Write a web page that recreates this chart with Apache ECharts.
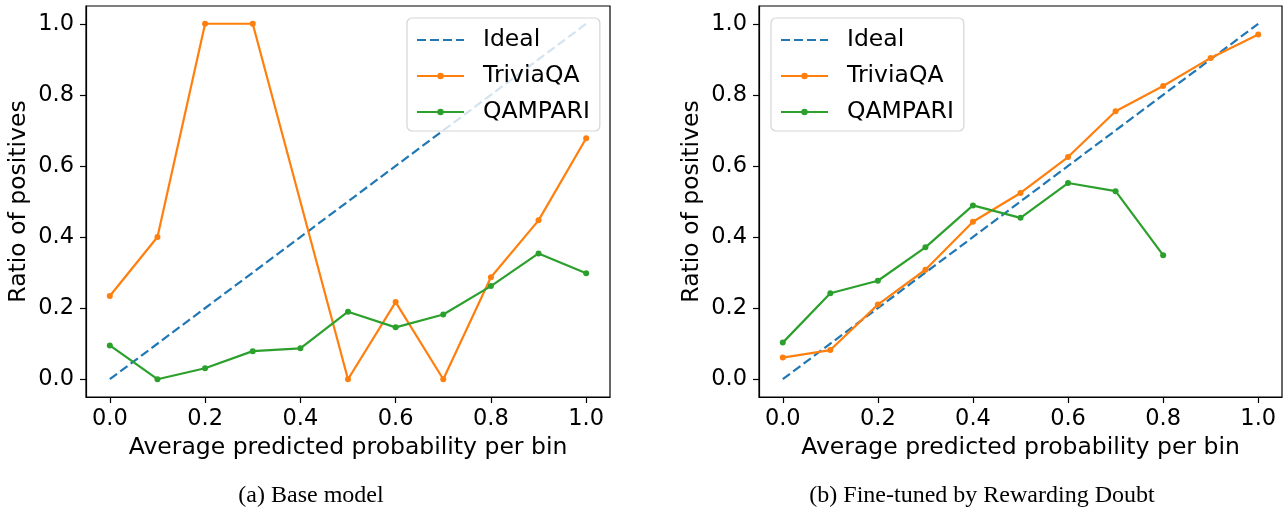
<!DOCTYPE html>
<html>
<head>
<meta charset="utf-8">
<script src="https://cdn.jsdelivr.net/npm/echarts@6/dist/echarts.min.js"></script>
<style>
html,body{margin:0;padding:0;background:#fff;}
#c{width:1283px;height:507px;}
</style>
</head>
<body>
<div id="c"></div>
<script>
// ---- data ----
const tickValues = [0, 0.2, 0.4, 0.6, 0.8, 1.0];
const idealX = [0, 1];
const idealY = [0, 1];

// (a) Base model
const baseTriviaX = [0, 0.1, 0.2, 0.3, 0.5, 0.6, 0.7, 0.8, 0.9, 1.0];
const baseTriviaY = [0.234, 0.400, 1.000, 1.000, 0.000, 0.217, 0.000, 0.287, 0.447, 0.678];
const baseQampariX = [0, 0.1, 0.2, 0.3, 0.4, 0.5, 0.6, 0.7, 0.8, 0.9, 1.0];
const baseQampariY = [0.095, 0.000, 0.031, 0.079, 0.087, 0.190, 0.146, 0.182, 0.262, 0.354, 0.298];

// (b) Fine-tuned by Rewarding Doubt
const ftTriviaX = [0, 0.1, 0.2, 0.3, 0.4, 0.5, 0.6, 0.7, 0.8, 0.9, 1.0];
const ftTriviaY = [0.061, 0.082, 0.210, 0.308, 0.443, 0.524, 0.625, 0.754, 0.825, 0.904, 0.970];
const ftQampariX = [0, 0.1, 0.2, 0.3, 0.4, 0.5, 0.6, 0.7, 0.8];
const ftQampariY = [0.103, 0.242, 0.277, 0.371, 0.489, 0.454, 0.552, 0.529, 0.349];

const seriesNames = ['Ideal', 'TriviaQA', 'QAMPARI'];
const captions = ['(a) Base model', '(b) Fine-tuned by Rewarding Doubt'];
const xTitle = 'Average predicted probability per bin';
const yTitle = 'Ratio of positives';

// ---- helpers ----
const zip = (xs, ys) => xs.map((x, i) => [x, ys[i]]);
const FONT = 'DejaVu Sans';
const BLUE = '#1f77b4', ORANGE = '#ff7f0e', GREEN = '#2ca02c';

function xAxis(idx) {
  return {
    gridIndex: idx, type: 'value', min: -0.05, max: 1.05,
    name: xTitle, nameLocation: 'middle', nameGap: 37,
    nameTextStyle: {fontFamily: FONT, fontSize: 23.5, color: '#000'},
    axisLine: {show: true, onZero: false, lineStyle: {color: '#000', width: 1.2}},
    axisTick: {show: true, length: 6, customValues: tickValues, lineStyle: {color: '#000', width: 1.2}},
    axisLabel: {customValues: tickValues, margin: 11, fontFamily: FONT, fontSize: 22.5, color: '#000',
      formatter: v => v.toFixed(1)},
    splitLine: {show: false}
  };
}
function yAxis(idx) {
  return {
    gridIndex: idx, type: 'value', min: -0.05, max: 1.05,
    name: yTitle, nameLocation: 'middle', nameGap: 55, nameRotate: 90,
    nameTextStyle: {fontFamily: FONT, fontSize: 23.5, color: '#000'},
    axisLine: {show: true, onZero: false, lineStyle: {color: '#000', width: 1.2}},
    axisTick: {show: true, length: 6, customValues: tickValues, lineStyle: {color: '#000', width: 1.2}},
    axisLabel: {customValues: tickValues, margin: 12, fontFamily: FONT, fontSize: 22.5, color: '#000',
      formatter: v => v.toFixed(1)},
    splitLine: {show: false}
  };
}
function lineSeries(name, data, color, idx) {
  return {
    name, type: 'line', data, xAxisIndex: idx, yAxisIndex: idx,
    symbol: 'circle', symbolSize: 6, showSymbol: true,
    lineStyle: {color, width: 2.2}, itemStyle: {color},
    z: 3
  };
}
function idealSeries(idx) {
  return {
    name: seriesNames[0], type: 'line', data: zip(idealX, idealY),
    xAxisIndex: idx, yAxisIndex: idx, symbol: 'none', showSymbol: false,
    lineStyle: {color: BLUE, width: 2.2, type: [9, 4]}, itemStyle: {color: BLUE},
    z: 2
  };
}
function legend(idx, left) {
  return {
    data: [
      {name: seriesNames[0], itemStyle: {opacity: 0}},
      {name: seriesNames[1]},
      {name: seriesNames[2]}
    ],
    orient: 'vertical', left, top: 18,
    itemWidth: 47, itemHeight: 8, itemGap: 12,
    padding: [10, 10, 7, 9],
    backgroundColor: 'rgba(255,255,255,0.8)',
    borderColor: '#d5d5d5', borderWidth: 1.2, borderRadius: 5,
    textStyle: {fontFamily: FONT, fontSize: 23.5, color: '#000', padding: [0, 0, 0, 14], lineHeight: 23},
    selectedMode: false
  };
}

const chart = echarts.init(document.getElementById('c'), null, {renderer: 'canvas'});
chart.setOption({
  animation: false,
  backgroundColor: '#fff',
  grid: [
    {left: 86, top: 6, width: 524, height: 391, show: true, borderColor: '#000', borderWidth: 1.2, backgroundColor: 'transparent'},
    {left: 759, top: 6, width: 523, height: 391, show: true, borderColor: '#000', borderWidth: 1.2, backgroundColor: 'transparent'}
  ],
  xAxis: [xAxis(0), xAxis(1)],
  yAxis: [yAxis(0), yAxis(1)],
  legend: [legend(0, 407), legend(1, 771)],
  series: [
    idealSeries(0),
    lineSeries(seriesNames[1], zip(baseTriviaX, baseTriviaY), ORANGE, 0),
    lineSeries(seriesNames[2], zip(baseQampariX, baseQampariY), GREEN, 0),
    idealSeries(1),
    lineSeries(seriesNames[1], zip(ftTriviaX, ftTriviaY), ORANGE, 1),
    lineSeries(seriesNames[2], zip(ftQampariX, ftQampariY), GREEN, 1)
  ],
  graphic: [
    {type: 'text', x: 311, y: 496, style: {text: captions[0], textAlign: 'center', textVerticalAlign: 'middle',
      font: '24px "Liberation Serif"', fill: '#000'}},
    {type: 'text', x: 982, y: 496, style: {text: captions[1], textAlign: 'center', textVerticalAlign: 'middle',
      font: '24px "Liberation Serif"', fill: '#000'}}
  ]
});
</script>
</body>
</html>
